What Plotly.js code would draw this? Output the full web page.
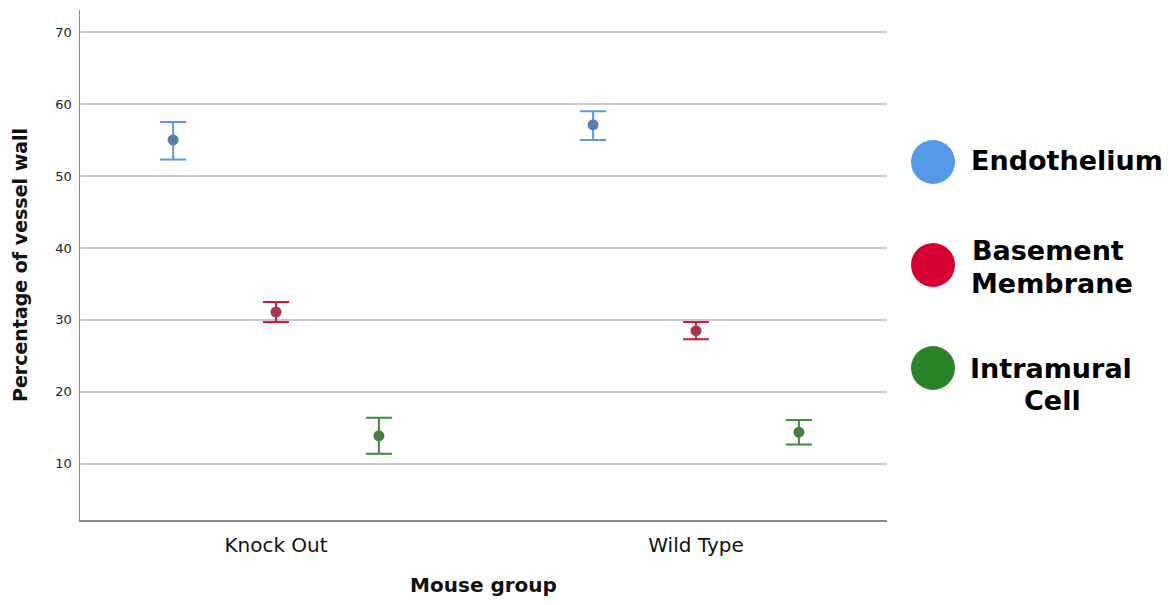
<!DOCTYPE html>
<html>
<head>
<meta charset="utf-8">
<script src="https://cdn.plot.ly/plotly-3.0.1.min.js"></script>
<style>html,body{margin:0;padding:0;background:#fff;}#chart{width:1173px;height:605px;}</style>
</head>
<body>
<div id="chart"></div>
<script>
// ---- data ----
const groups = ["Knock Out", "Wild Type"];
const seriesNames = ["Endothelium", "Basement Membrane", "Intramural Cell"];
const endoMean = [55.0, 57.1];
const endoUpper = [57.5, 59.0];
const endoLower = [52.3, 55.0];
const bmMean = [31.1, 28.5];
const bmUpper = [32.5, 29.7];
const bmLower = [29.7, 27.3];
const icMean = [13.9, 14.4];
const icUpper = [16.4, 16.1];
const icLower = [11.4, 12.7];
const yTicks = [10, 20, 30, 40, 50, 60, 70];

// ---- styles ----
const barColors = ["#5b9be6", "#d8173f", "#3d8c3d"];
const markerColors = ["#5a7ea6", "#a33850", "#4a7a4a"];
const legendColors = ["#5598e6", "#d50032", "#2a852a"];
const offsets = [-0.245, 0, 0.245];

const series = [
  {mean: endoMean, up: endoUpper, lo: endoLower},
  {mean: bmMean, up: bmUpper, lo: bmLower},
  {mean: icMean, up: icUpper, lo: icLower}
];

const traces = series.map((s, i) => ({
  type: "scatter",
  mode: "markers",
  name: seriesNames[i],
  x: groups.map((g, gi) => gi + offsets[i]),
  y: s.mean,
  marker: {size: 11, color: markerColors[i], line: {width: 0}},
  error_y: {
    type: "data", symmetric: false,
    array: s.up.map((u, k) => u - s.mean[k]),
    arrayminus: s.mean.map((m, k) => m - s.lo[k]),
    color: barColors[i], thickness: 2, width: 13
  },
  showlegend: false,
  hoverinfo: "x+y"
}));

// pixel helpers for plot area: x 80..887, y 10..520
const L = 80, R = 887, T = 10, B = 520;
const px = v => (v - L) / (R - L);
const py = v => (B - v) / (B - T);

const shapes = [];
const annotations = [];
const circleY = [162, 265, 368];
legendColors.forEach((c, i) => {
  shapes.push({
    type: "circle", xref: "paper", yref: "paper",
    x0: px(911), x1: px(955), y0: py(circleY[i] + 22), y1: py(circleY[i] - 22),
    fillcolor: c, line: {width: 0}
  });
});
const legFont = {family: "DejaVu Sans", size: 27, color: "#000"};
const legLines = [
  {t: "<b>Endothelium</b>", x: 1067, y: 161},
  {t: "<b>Basement</b>", x: 1048, y: 250},
  {t: "<b>Membrane</b>", x: 1052, y: 283},
  {t: "<b>Intramural</b>", x: 1051, y: 368},
  {t: "<b>Cell</b>", x: 1052, y: 401}
];
legLines.forEach(l => annotations.push({
  text: l.t, xref: "paper", yref: "paper", x: px(l.x), y: py(l.y),
  xanchor: "center", yanchor: "middle", showarrow: false, font: legFont
}));

const layout = {
  width: 1173, height: 605,
  margin: {l: L, r: 1173 - R, t: T, b: 605 - B},
  paper_bgcolor: "#fff", plot_bgcolor: "#fff",
  showlegend: false,
  font: {family: "DejaVu Sans", color: "#222"},
  xaxis: {
    range: [(L - 276) / 420, (R - 276) / 420],
    tickvals: groups.map((g, i) => i), ticktext: groups,
    showgrid: false, zeroline: false,
    showline: true, linecolor: "#8a8a8a", linewidth: 1.5,
    ticks: "outside", ticklen: 6, tickcolor: "rgba(0,0,0,0)",
    tickfont: {size: 20, color: "#111"},
    title: {text: "<b>Mouse group</b>", font: {size: 20, color: "#111"}, standoff: 22}
  },
  yaxis: {
    range: [2.2, 73.06],
    tickvals: yTicks,
    showgrid: true, gridcolor: "#cbcbcb", gridwidth: 2,
    zeroline: false, showline: true, linecolor: "#8a8a8a", linewidth: 1.5,
    ticks: "outside", ticklen: 4, tickcolor: "rgba(0,0,0,0)",
    tickfont: {size: 13, color: "#222"},
    title: {text: "<b>Percentage of vessel wall</b>", font: {size: 19, color: "#111"}, standoff: 22}
  },
  shapes: shapes,
  annotations: annotations
};

Plotly.newPlot("chart", traces, layout, {displayModeBar: false, staticPlot: true});
</script>
</body>
</html>
